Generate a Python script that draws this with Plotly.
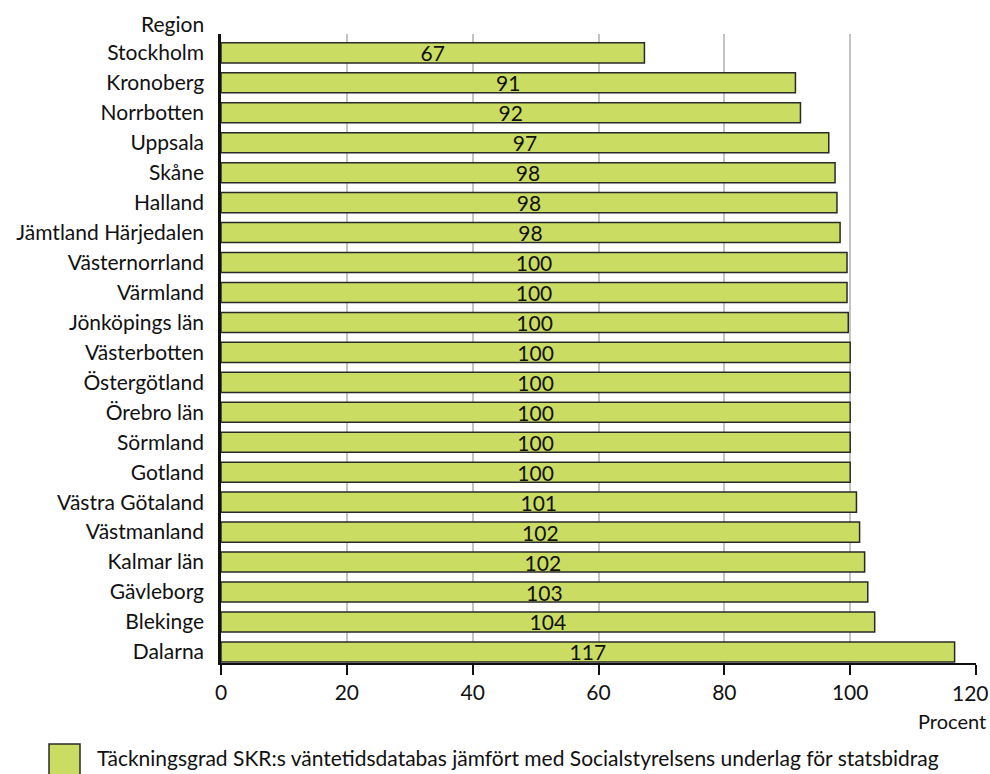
import plotly.graph_objects as go

regions = ["Stockholm", "Kronoberg", "Norrbotten", "Uppsala", "Skåne", "Halland",
           "Jämtland Härjedalen", "Västernorrland", "Värmland", "Jönköpings län",
           "Västerbotten", "Östergötland", "Örebro län", "Sörmland", "Gotland",
           "Västra Götaland", "Västmanland", "Kalmar län", "Gävleborg", "Blekinge", "Dalarna"]
values = [67.3, 91.3, 92.1, 96.6, 97.6, 97.9, 98.4, 99.5, 99.5, 99.7,
          100.0, 100.0, 100.0, 100.0, 100.0, 101.0, 101.5, 102.3, 102.8, 103.9, 116.6]
labels = ["67", "91", "92", "97", "98", "98", "98", "100", "100", "100",
          "100", "100", "100", "100", "100", "101", "102", "102", "103", "104", "117"]
x_ticks = [0, 20, 40, 60, 80, 100, 120]
series_name = "Täckningsgrad SKR:s väntetidsdatabas jämfört med Socialstyrelsens underlag för statsbidrag"

FONT = "Lato"
BAR = "#cadc61"

W, H = 990, 774
L, R, T, B = 221, 14, 34, 111
pw, ph = W - L - R, H - T - B

def px(x):
    return (x - L) / pw

def py(y):
    return (H - B - y) / ph

fig = go.Figure(go.Bar(
    x=values, y=list(range(len(regions))), orientation="h",
    text=labels, textposition="inside", insidetextanchor="middle",
    textangle=0, constraintext="none",
    textfont=dict(family=FONT, size=21, color="#111"),
    marker=dict(color=BAR, line=dict(color="#2a2a2a", width=1.5)),
    width=0.67, name=series_name, showlegend=False, hoverinfo="skip",
))

n = len(regions)
# last tick label is placed separately so it stays inside the page
tick_text = [str(t) for t in x_ticks[:-1]] + [""]
fig.update_layout(
    width=W, height=H, margin=dict(l=L, r=R, t=T, b=B, autoexpand=False),
    plot_bgcolor="white", paper_bgcolor="white",
    font=dict(family=FONT, size=21, color="#111"),
    xaxis=dict(range=[0, 120], tickvals=x_ticks, ticktext=tick_text, showgrid=True,
               gridcolor="#c4c4c4", gridwidth=1.5, zeroline=False, showline=True,
               linecolor="#111", linewidth=2, ticks="outside", ticklen=10, tickwidth=2,
               tickcolor="#111", automargin=False, tickfont=dict(size=21)),
    yaxis=dict(range=[n - 1 + 0.37, -0.63], tickvals=list(range(n)), ticktext=regions,
               showgrid=False, zeroline=False, showline=True, linecolor="#111", linewidth=2.5,
               ticks="outside", ticklen=0, ticklabelstandoff=10, automargin=False,
               tickfont=dict(size=21)),
)

fig.add_annotation(text=str(x_ticks[-1]), xref="x", yref="paper", x=x_ticks[-1], y=py(692),
                   xanchor="center", yanchor="middle", xshift=-6, showarrow=False,
                   font=dict(size=21))
fig.add_annotation(text="Region", xref="paper", yref="paper", x=px(206), y=py(23),
                   xanchor="right", yanchor="middle", showarrow=False, font=dict(size=21))
fig.add_annotation(text="Procent", xref="paper", yref="paper", x=px(988), y=py(721),
                   xanchor="right", yanchor="middle", showarrow=False, font=dict(size=20))
fig.add_shape(type="rect", xref="paper", yref="paper", x0=px(49), x1=px(80),
              y0=py(775), y1=py(744), fillcolor=BAR, line=dict(color="#2a2a2a", width=1.5))
fig.add_annotation(text=series_name, xref="paper", yref="paper", x=px(95), y=py(757),
                   xanchor="left", yanchor="middle", showarrow=False, font=dict(size=21))

fig.write_html("out.html")
